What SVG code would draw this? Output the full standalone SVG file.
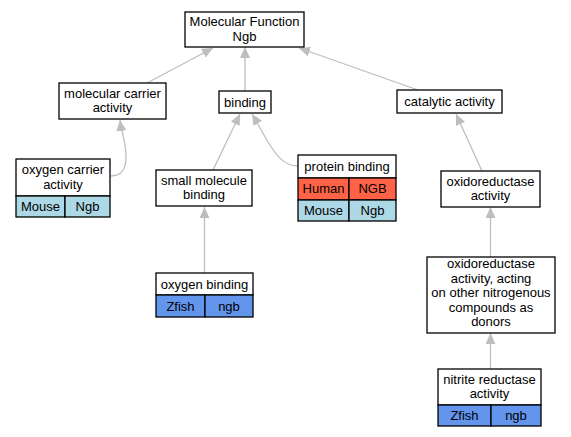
<svg xmlns="http://www.w3.org/2000/svg" width="571" height="437" viewBox="0 0 571 437">
<style>
text{font-family:"Liberation Sans",Arial,sans-serif;font-size:13px;fill:#000;text-anchor:middle}
.b{fill:#fff;stroke:#000;stroke-width:1.3}
.m{fill:#add8e6;stroke:#000;stroke-width:1.3}
.h{fill:#ff6347;stroke:#000;stroke-width:1.3}
.z{fill:#6495ed;stroke:#000;stroke-width:1.3}
.e{fill:none;stroke:#bebebe;stroke-width:1.3;marker-end:url(#a)}
</style>
<defs>
<marker id="a" markerUnits="userSpaceOnUse" markerWidth="12" markerHeight="10" refX="11" refY="5" orient="auto">
<path d="M0,0 L11,5 L0,10 z" fill="#bebebe"/>
</marker>
</defs>
<rect width="571" height="437" fill="#fff"/>
<g id="edges">
<path class="e" d="M147,83 L213,48"/>
<path class="e" d="M245,91 L245,47"/>
<path class="e" d="M418,90 L299,48"/>
<path class="e" d="M111,176 C128,176 127,158 125,145 C123,134 121,128 120,120"/>
<path class="e" d="M213,170 L240,114"/>
<path class="e" d="M298,166 C284,166 276,155 268,142 C262,132 257,122 252,114"/>
<path class="e" d="M482,171 L456,114"/>
<path class="e" d="M204.5,273 L204.5,207"/>
<path class="e" d="M490.5,257 L490.5,207"/>
<path class="e" d="M490.5,369 L490.5,333"/>
</g>
<g id="mf">
<rect class="b" x="185" y="12" width="119" height="35"/>
<text x="244.5" y="26">Molecular Function</text>
<text x="244.5" y="40.5">Ngb</text>
</g>
<g id="mca">
<rect class="b" x="59" y="83" width="107" height="36"/>
<text x="112.5" y="97.5">molecular carrier</text>
<text x="112.5" y="112">activity</text>
</g>
<g id="binding">
<rect class="b" x="219" y="91" width="52" height="22"/>
<text x="245" y="106.5">binding</text>
</g>
<g id="catalytic">
<rect class="b" x="397" y="90" width="105" height="23"/>
<text x="449.5" y="106">catalytic activity</text>
</g>
<g id="oca">
<rect class="b" x="16" y="159" width="94" height="37"/>
<text x="63" y="174">oxygen carrier</text>
<text x="63" y="188.5">activity</text>
<rect class="m" x="16" y="196" width="49" height="21"/>
<rect class="m" x="65" y="196" width="45" height="21"/>
<text x="40.5" y="211">Mouse</text>
<text x="87.5" y="211">Ngb</text>
</g>
<g id="smb">
<rect class="b" x="156" y="170" width="96" height="36"/>
<text x="204" y="184.5">small molecule</text>
<text x="204" y="199">binding</text>
</g>
<g id="pb">
<rect class="b" x="298" y="155" width="98" height="23"/>
<text x="347" y="171">protein binding</text>
<rect class="h" x="298" y="178" width="51" height="22"/>
<rect class="h" x="349" y="178" width="47" height="22"/>
<text x="323.5" y="193">Human</text>
<text x="372.5" y="193">NGB</text>
<rect class="m" x="298" y="200" width="51" height="21"/>
<rect class="m" x="349" y="200" width="47" height="21"/>
<text x="323.5" y="214.5">Mouse</text>
<text x="372.5" y="214.5">Ngb</text>
</g>
<g id="ox">
<rect class="b" x="441" y="171" width="99" height="36"/>
<text x="490.5" y="185.5">oxidoreductase</text>
<text x="490.5" y="200">activity</text>
</g>
<g id="ob">
<rect class="b" x="156" y="273" width="97" height="22"/>
<text x="204.5" y="288.5">oxygen binding</text>
<rect class="z" x="156" y="295" width="49" height="22"/>
<rect class="z" x="205" y="295" width="48" height="22"/>
<text x="180.5" y="310.5">Zfish</text>
<text x="229" y="310.5">ngb</text>
</g>
<g id="oxn">
<rect class="b" x="427" y="257" width="128" height="76"/>
<text x="491" y="268">oxidoreductase</text>
<text x="491" y="282.5">activity, acting</text>
<text x="491" y="297">on other nitrogenous</text>
<text x="491" y="311.5">compounds as</text>
<text x="491" y="326">donors</text>
</g>
<g id="nr">
<rect class="b" x="438" y="369" width="103" height="36"/>
<text x="489.5" y="383.5">nitrite reductase</text>
<text x="489.5" y="398">activity</text>
<rect class="z" x="438" y="405" width="53" height="21"/>
<rect class="z" x="491" y="405" width="50" height="21"/>
<text x="464.5" y="420">Zfish</text>
<text x="516" y="420">ngb</text>
</g>
</svg>
